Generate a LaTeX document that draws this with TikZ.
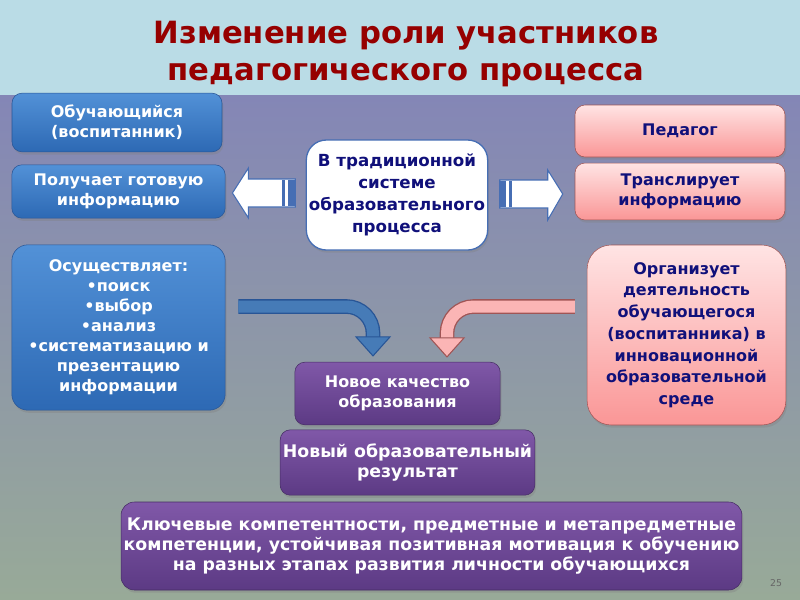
\documentclass[tikz,border=0pt]{standalone}
\usepackage{fontspec}
\setmainfont{DejaVu Sans}
\usetikzlibrary{positioning,calc,shadows}

\definecolor{bandtop}{RGB}{186,220,230}
\definecolor{bgmid}{RGB}{132,134,182}
\definecolor{bgbot}{RGB}{152,170,152}
\definecolor{titlered}{RGB}{150,0,0}
\definecolor{navytext}{RGB}{16,16,122}
\definecolor{bluetop}{RGB}{82,145,215}
\definecolor{bluebot}{RGB}{45,105,180}
\definecolor{blueline}{RGB}{40,85,150}
\definecolor{pinktop}{RGB}{255,228,228}
\definecolor{pinkbot}{RGB}{250,150,150}
\definecolor{pinkline}{RGB}{160,85,85}
\definecolor{violettop}{RGB}{128,88,168}
\definecolor{violetbot}{RGB}{92,58,132}
\definecolor{violetline}{RGB}{70,45,100}
\definecolor{tradline}{RGB}{70,110,180}

\tikzset{
  box/.style={rounded corners=7.5pt, align=center, inner sep=2pt,
    font=\fontsize{12}{15}\selectfont\bfseries,
    drop shadow={opacity=0.35, shadow xshift=1pt, shadow yshift=-2pt}},
  bluebox/.style={box, top color=bluetop, bottom color=bluebot, draw=blueline, text=white},
  pinkbox/.style={box, top color=pinktop, bottom color=pinkbot, draw=pinkline, text=navytext},
  violetbox/.style={box, top color=violettop, bottom color=violetbot, draw=violetline, text=white},
  tradbox/.style={box, fill=white, draw=tradline, line width=1pt, text=navytext, rounded corners=15pt},
  whitearrow/.style={fill=white, draw=tradline, line width=0.8pt},
  blueshaft/.style={draw=bluetop!85!black, line width=9pt, rounded corners=20pt,
    preaction={draw=blueline, line width=11pt}},
  pinkshaft/.style={draw=pinkbot!70!white, line width=9pt, rounded corners=20pt,
    preaction={draw=pinkline, line width=11pt}},
}

\begin{document}
\begin{tikzpicture}[x=0.75pt,y=-0.75pt]
\useasboundingbox (0,0) rectangle (800,600);

% background
\shade[top color=bgmid, bottom color=bgbot] (0,95) rectangle (800,600);
\fill[bandtop] (0,0) rectangle (800,95);

\node[font=\fontsize{23}{28}\selectfont\bfseries, text=titlered, align=center] (title) at (406,54)
  {Изменение роли участников\\педагогического процесса};

% left column
\node[bluebox, minimum width=157.5pt, minimum height=44pt] (pupil) at (117,122.5)
  {Обучающийся\\(воспитанник)};
\node[bluebox, minimum width=160pt, minimum height=40pt] (gets) at (118.5,191.5)
  {Получает готовую\\информацию};
\node[bluebox, minimum width=160pt, minimum height=124pt, rounded corners=12pt] (does) at (118.5,327.5)
  {Осуществляет:\\•поиск\\•выбор\\•анализ\\•систематизацию и\\презентацию\\информации};

% centre
\node[tradbox, font=\fontsize{12.5}{16.5}\selectfont\bfseries,
  minimum width=135pt, minimum height=82.5pt] (trad) at (397,195)
  {В традиционной\\системе\\образовательного\\процесса};

% right column
\node[pinkbox, minimum width=157.5pt, minimum height=39pt] (teacher) at (680,131) {Педагог};
\node[pinkbox, minimum width=157.5pt, minimum height=42.7pt] (transl) at (680,191.5)
  {Транслирует\\информацию};
\node[pinkbox, font=\fontsize{12}{16.3}\selectfont\bfseries, rounded corners=18pt,
  minimum width=149pt, minimum height=135pt] (organize) at (686.5,335)
  {Организует\\деятельность\\обучающегося\\(воспитанника) в\\инновационной\\образовательной\\среде};

% bottom
\node[violetbox, minimum width=154pt, minimum height=47pt] (quality) at (397.5,393.5)
  {Новое качество\\образования};
\node[violetbox, font=\fontsize{13}{15}\selectfont\bfseries,
  minimum width=187pt, minimum height=49pt] (result) at (407.5,462.5)
  {Новый образовательный\\результат};
\node[violetbox, font=\fontsize{13}{15}\selectfont\bfseries, rounded corners=10pt,
  minimum width=448pt, minimum height=66pt] (keys) at (431.5,546)
  {Ключевые компетентности, предметные и метапредметные\\компетенции, устойчивая позитивная мотивация к обучению\\на разных этапах развития личности обучающихся};

\node[font=\fontsize{7}{8}\selectfont, text=black!60] (pnum) at (776,583) {25};

% white arrows
\coordinate (ltip) at ($(gets.east)+(7,1.5)$);
\draw[whitearrow] (ltip) -- ++(16,-25) -- ++(0,11) -- ++(47,0) -- ++(0,28)
  -- ++(-47,0) -- ++(0,11) -- cycle;
\fill[tradline] ($(ltip)+(50,-13)$) rectangle ++(3,26);
\fill[tradline] ($(ltip)+(56,-13)$) rectangle ++(7,26);

\coordinate (rtip) at ($(transl.west)+(-12,2.5)$);
\draw[whitearrow] (rtip) -- ++(-15,-24) -- ++(0,10) -- ++(-48,0) -- ++(0,28)
  -- ++(48,0) -- ++(0,12) -- cycle;
\fill[tradline] ($(rtip)+(-63,-13)$) rectangle ++(6,26);
\fill[tradline] ($(rtip)+(-54,-13)$) rectangle ++(3,26);

% bent arrows
\coordinate (btail) at ($(does.east)+(13,-21)$);
\coordinate (btip) at ($(quality.north)+(-24.5,-6)$);
\draw[blueshaft] (btail) -| ($(btip)+(0,-17)$);
\filldraw[fill=bluetop!85!black, draw=blueline, line width=0.8pt]
  (btip) -- ++(-17,-19) -- ++(34,0) -- cycle;

\coordinate (ptail) at ($(organize.west)+(-12,-28.5)$);
\coordinate (ptip) at ($(quality.north)+(49.5,-5)$);
\draw[pinkshaft] (ptail) -| ($(ptip)+(0,-17)$);
\filldraw[fill=pinkbot!70!white, draw=pinkline, line width=0.8pt]
  (ptip) -- ++(-17,-19) -- ++(34,0) -- cycle;
\end{tikzpicture}
\end{document}
